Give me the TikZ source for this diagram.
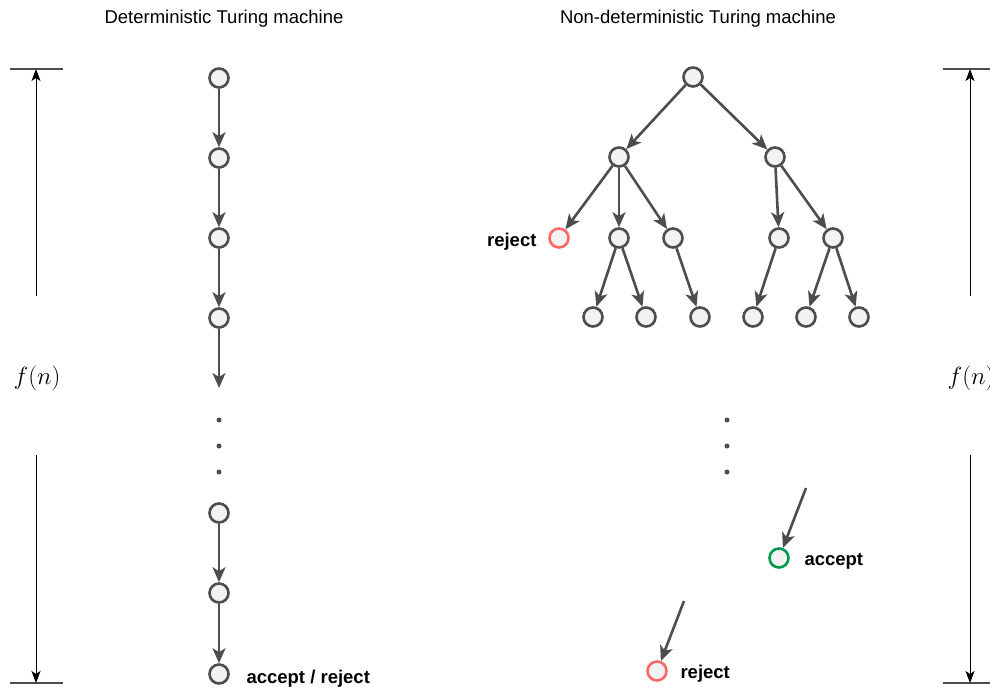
\documentclass[tikz,border=0pt]{standalone}
\usepackage{fontspec}
\setmainfont{Liberation Sans}
\usetikzlibrary{arrows.meta}
\definecolor{edgegray}{HTML}{4D4D4D}
\definecolor{nodefill}{HTML}{F2F2F2}
\definecolor{rejred}{HTML}{FF6666}
\definecolor{accgreen}{HTML}{00994D}
\tikzset{
  state/.style={circle, draw=edgegray, line width=2.6pt, fill=nodefill, minimum size=19pt, inner sep=0pt},
  rejstate/.style={state, draw=rejred},
  accstate/.style={state, draw=accgreen},
  move/.style={draw=edgegray, line width=2.6pt, -{Stealth[length=15pt,width=13pt,inset=4pt]}},
  measure/.style={draw=black, line width=1pt, -{Stealth[length=12pt,width=9pt,inset=3pt]}},
  bound/.style={draw=edgegray, line width=1.4pt},
  title/.style={font=\fontsize{18.5}{22}\selectfont},
  tag/.style={font=\fontsize{18.5}{22}\selectfont\bfseries},
  dot/.style={circle, fill=edgegray, inner sep=0pt, minimum size=5pt},
  fn/.style={font=\fontsize{25}{30}\selectfont}
}
\begin{document}
\begin{tikzpicture}[x=1pt, y=-1pt]
\useasboundingbox (0,0) rectangle (990,689);

% titles
\node[title] (tdet) at (224,19) {Deterministic Turing machine};
\node[title] (tndet) at (698,19) {Non-deterministic Turing machine};

% left time bound
\coordinate (lt1) at (10,69); \coordinate (lt2) at (63,69);
\coordinate (lb1) at (10,683); \coordinate (lb2) at (63,683);
\draw[bound] (lt1) -- (lt2);
\draw[bound] (lb1) -- (lb2);
\node[fn] (lfn) at (37,378) {$f(n)$};
\coordinate (lup) at (36,296); \coordinate (ltop) at (36,69);
\coordinate (ldn) at (36,455); \coordinate (lbot) at (36,683);
\draw[measure] (lup) -- (ltop);
\draw[measure] (ldn) -- (lbot);

% right time bound
\coordinate (rt1) at (943,69); \coordinate (rt2) at (990,69);
\coordinate (rb1) at (943,683); \coordinate (rb2) at (990,683);
\draw[bound] (rt1) -- (rt2);
\draw[bound] (rb1) -- (rb2);
\node[fn] (rfn) at (971,378) {$f(n)$};
\coordinate (rup) at (970,296); \coordinate (rtop) at (970,69);
\coordinate (rdn) at (970,455); \coordinate (rbot) at (970,683);
\draw[measure] (rup) -- (rtop);
\draw[measure] (rdn) -- (rbot);

% deterministic run
\node[state] (d1) at (219,78) {};
\node[state] (d2) at (219,158) {};
\node[state] (d3) at (219,238) {};
\node[state] (d4) at (219,318) {};
\coordinate (d5) at (219,388);
\node[dot] (dd1) at (219,420) {};
\node[dot] (dd2) at (219,446) {};
\node[dot] (dd3) at (219,472) {};
\node[state] (d6) at (219,513) {};
\node[state] (d7) at (219,593) {};
\node[state] (d8) at (219,674) {};
\draw[move] (d1) -- (d2);
\draw[move] (d2) -- (d3);
\draw[move] (d3) -- (d4);
\draw[move] (d4) -- (d5);
\draw[move] (d6) -- (d7);
\draw[move] (d7) -- (d8);
\node[tag, anchor=west] (dlab) at (243,679) {accept / reject};

% non-deterministic computation tree
\node[state] (r) at (693,77) {};
\node[state] (a) at (619,157) {};
\node[state] (b) at (775,157) {};
\node[rejstate] (a1) at (559,238) {};
\node[state] (a2) at (619,238) {};
\node[state] (a3) at (673,238) {};
\node[state] (b1) at (779,238) {};
\node[state] (b2) at (833,238) {};
\node[state] (a21) at (593,317) {};
\node[state] (a22) at (646,317) {};
\node[state] (a31) at (700,317) {};
\node[state] (b11) at (753,317) {};
\node[state] (b21) at (806,317) {};
\node[state] (b22) at (859,317) {};
\draw[move] (r) -- (a);
\draw[move] (r) -- (b);
\draw[move] (a) -- (a1);
\draw[move] (a) -- (a2);
\draw[move] (a) -- (a3);
\draw[move] (b) -- (b1);
\draw[move] (b) -- (b2);
\draw[move] (a2) -- (a21);
\draw[move] (a2) -- (a22);
\draw[move] (a3) -- (a31);
\draw[move] (b1) -- (b11);
\draw[move] (b2) -- (b21);
\draw[move] (b2) -- (b22);
\node[tag, anchor=east] (rej1) at (540,242) {reject};

\node[dot] (nd1) at (727,420) {};
\node[dot] (nd2) at (727,446) {};
\node[dot] (nd3) at (727,472) {};

\coordinate (accfrom) at (806,488);
\node[accstate] (acc) at (779,558) {};
\draw[move] (accfrom) -- (acc);
\node[tag, anchor=west] (acclab) at (801,561) {accept};

\coordinate (rejfrom) at (684,601);
\node[rejstate] (rej) at (657,671) {};
\draw[move] (rejfrom) -- (rej);
\node[tag, anchor=west] (rejlab) at (677,674) {reject};
\end{tikzpicture}
\end{document}
